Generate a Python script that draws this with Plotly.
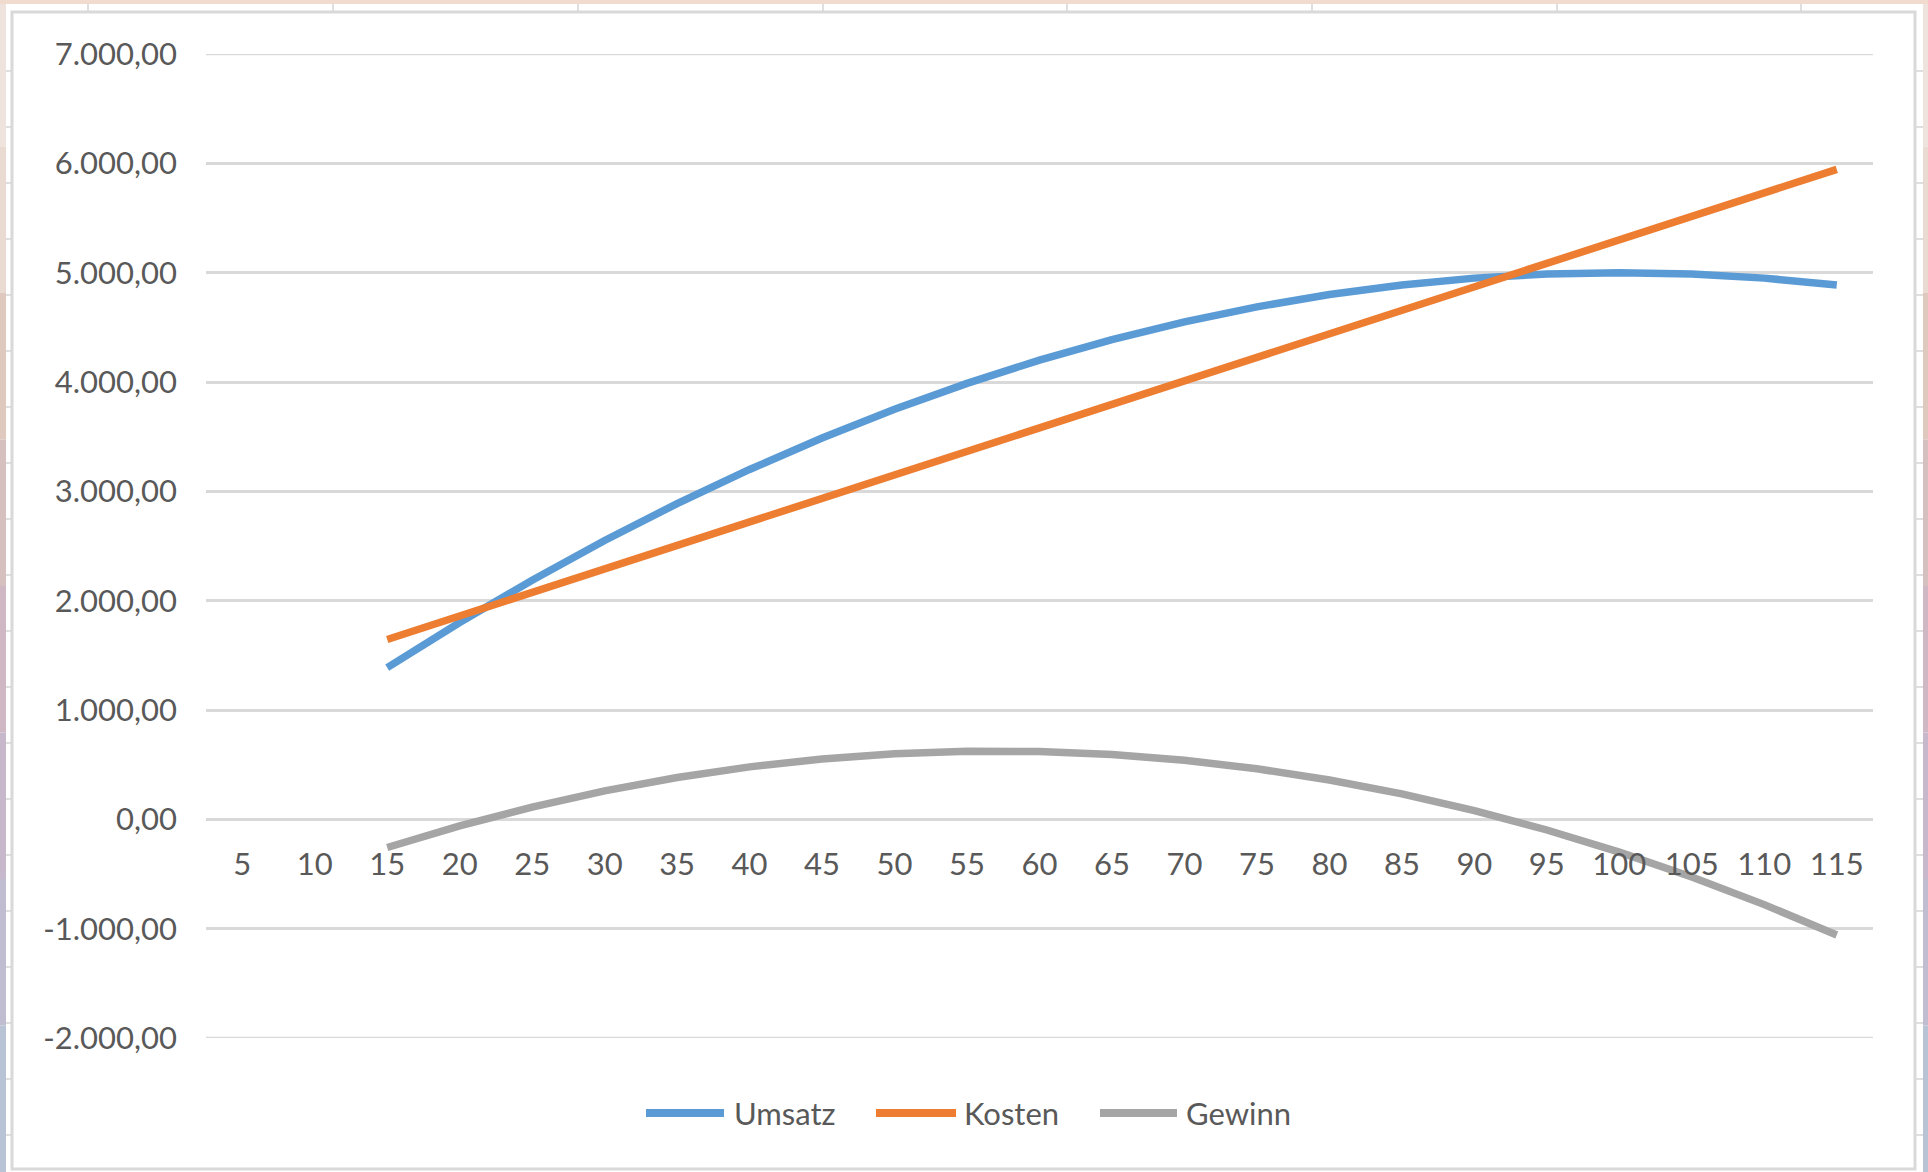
import plotly.graph_objects as go

# ---- data -------------------------------------------------------------
menge = [5, 10, 15, 20, 25, 30, 35, 40, 45, 50, 55, 60, 65, 70, 75, 80,
         85, 90, 95, 100, 105, 110, 115]
umsatz = [None, None, 1387.5, 1800, 2187.5, 2550, 2887.5, 3200, 3487.5, 3750,
          3987.5, 4200, 4387.5, 4550, 4687.5, 4800, 4887.5, 4950, 4987.5, 5000,
          4987.5, 4950, 4887.5]
kosten = [None, None, 1645, 1860, 2075, 2290, 2505, 2720, 2935, 3150, 3365,
          3580, 3795, 4010, 4225, 4440, 4655, 4870, 5085, 5300, 5515, 5730, 5945]
gewinn = [None, None, -257.5, -60, 112.5, 260, 382.5, 480, 552.5, 600, 622.5,
          620, 592.5, 540, 462.5, 360, 232.5, 80, -97.5, -300, -527.5, -780,
          -1057.5]
y_ticks = [-2000, -1000, 0, 1000, 2000, 3000, 4000, 5000, 6000, 7000]

series_names = ["Umsatz", "Kosten", "Gewinn"]
series_colors = ["#5B9BD5", "#ED7D31", "#A5A5A5"]

# ---- page geometry (pixels) --------------------------------------------
W, H = 1928, 1172
PL, PR, PT, PB = 206, 1873, 54, 1038   # plot area edges
FONT = "Lato"
TXT = "#595959"
GRID = "#d9d9d9"
FS = 31


def px(x):
    return (x - PL) / (PR - PL)


def py(y):
    return (PB - y) / (PB - PT)


def de_num(v):
    s = f"{abs(v):,.2f}".replace(",", "X").replace(".", ",").replace("X", ".")
    return ("-" if v < 0 else "") + s


cats = [str(m) for m in menge]

fig = go.Figure()
for name, vals, col in zip(series_names, [umsatz, kosten, gewinn], series_colors):
    fig.add_trace(go.Scatter(
        x=cats, y=vals, name=name, mode="lines",
        line=dict(color=col, width=7.5),
        connectgaps=False, showlegend=False,
    ))

ymin, ymax = y_ticks[0], y_ticks[-1]

fig.update_layout(
    width=W, height=H,
    margin=dict(l=PL, r=W - PR, t=PT, b=H - PB, pad=0),
    paper_bgcolor="white", plot_bgcolor="white",
    font=dict(family=FONT, size=FS, color=TXT),
    showlegend=False,
    xaxis=dict(
        type="category", categoryorder="array", categoryarray=cats,
        range=[-0.5, len(cats) - 0.5],
        showgrid=False, zeroline=False, showline=False, ticks="",
        anchor="free", position=(0 - ymin) / (ymax - ymin),
        ticklabelstandoff=24,
        tickfont=dict(family=FONT, size=FS, color=TXT),
    ),
    yaxis=dict(
        range=[ymin, ymax], tickvals=y_ticks,
        ticktext=[de_num(v) for v in y_ticks],
        showgrid=True, gridcolor=GRID, gridwidth=2.5,
        zeroline=False, showline=False, ticks="",
        ticklabelstandoff=28,
        tickfont=dict(family=FONT, size=FS, color=TXT),
    ),
)

shapes = []
annotations = []

# outer gridlines at both ends of the value range
for v in (ymin, ymax):
    shapes.append(dict(type="line", xref="paper", yref="y", layer="below",
                       x0=0, x1=1, y0=v, y1=v,
                       line=dict(color=GRID, width=2.5)))

# surrounding sheet: coloured window edges and cell lines
edge_colors = ["#eee3dd", "#eadbd2", "#dfc9bf", "#d6bfbf", "#cfb7c4",
               "#c8b8cb", "#c0bdd0", "#b9c3d6"]
seg = H / len(edge_colors)
for i, c in enumerate(edge_colors):
    y0, y1 = i * seg, (i + 1) * seg
    shapes.append(dict(type="rect", xref="paper", yref="paper", layer="below",
                       x0=px(0), x1=px(6), y0=py(y1), y1=py(y0),
                       fillcolor=c, line=dict(width=0)))
    shapes.append(dict(type="rect", xref="paper", yref="paper", layer="below",
                       x0=px(1923), x1=px(W), y0=py(y1), y1=py(y0),
                       fillcolor=c, line=dict(width=0)))
shapes.append(dict(type="rect", xref="paper", yref="paper", layer="below",
                   x0=px(0), x1=px(W), y0=py(4), y1=py(0),
                   fillcolor="#f1dbcf", line=dict(width=0)))
for xv in [88, 333, 578, 823, 1067, 1312, 1557, 1801]:
    shapes.append(dict(type="line", xref="paper", yref="paper", layer="below",
                       x0=px(xv), x1=px(xv), y0=py(12), y1=py(4),
                       line=dict(color="#d4d4d4", width=1.5)))
for yv in range(71, 1165, 56):
    shapes.append(dict(type="line", xref="paper", yref="paper", layer="below",
                       x0=px(6), x1=px(11), y0=py(yv), y1=py(yv),
                       line=dict(color="#d4d4d4", width=1.5)))
    shapes.append(dict(type="line", xref="paper", yref="paper", layer="below",
                       x0=px(1916), x1=px(1923), y0=py(yv), y1=py(yv),
                       line=dict(color="#d4d4d4", width=1.5)))

# chart area frame
shapes.append(dict(type="rect", xref="paper", yref="paper", layer="below",
                   x0=px(12), x1=px(1915), y0=py(1169), y1=py(12),
                   fillcolor="rgba(0,0,0,0)", line=dict(color=GRID, width=3)))

# legend row
leg_y = 1113
leg_items = [(646, 724, 732), (876, 956, 962), (1100, 1177, 1184)]
for (x0, x1, xt), name, col in zip(leg_items, series_names, series_colors):
    shapes.append(dict(type="line", xref="paper", yref="paper",
                       x0=px(x0), x1=px(x1), y0=py(leg_y), y1=py(leg_y),
                       line=dict(color=col, width=8)))
    annotations.append(dict(xref="paper", yref="paper", x=px(xt), y=py(leg_y),
                            text=name, showarrow=False, xanchor="left",
                            yanchor="middle",
                            font=dict(family=FONT, size=FS, color=TXT)))

fig.update_layout(shapes=shapes, annotations=annotations)

fig.write_html("out.html")
